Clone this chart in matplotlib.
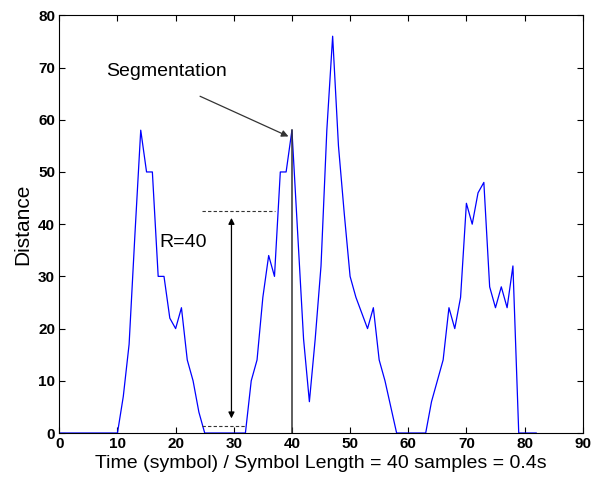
import matplotlib.pyplot as plt

plt.rcParams["font.family"] = ["Liberation Sans", "DejaVu Sans"]

# time in symbols and distance values
time_sym = list(range(0, 83))
distance = (
    [0] * 10
    + [0, 7, 17, 38, 58, 50, 50, 30, 30, 22, 20, 24, 14, 10, 4, 0]  # 10..25
    + [0] * 6  # 26..31
    + [0, 10, 14, 26, 34, 30, 50, 50, 58]  # 32..40
    + [38, 18, 6, 18, 32, 58, 76, 55, 42, 30, 26, 23, 20, 24, 14, 10, 5, 0]  # 41..58
    + [0] * 4  # 59..62
    + [0, 6, 10, 14, 24, 20, 26, 44, 40, 46, 48, 28, 24, 28, 24, 32, 0]  # 63..79
    + [0] * 3  # 80..82
)

seg_x = 40
seg_y = 58

fig = plt.figure(figsize=(5.92, 4.79), dpi=100)
ax = fig.add_axes([0.1002, 0.096, 0.8841, 0.872])

ax.plot(time_sym, distance, color="#0000ff", linewidth=0.9)
ax.plot([seg_x, seg_x], [0, seg_y], color="#333333", linewidth=1.1)

# segmentation arrow
ax.annotate("", xy=(39.4, 56.8), xytext=(24.2, 64.5),
            arrowprops=dict(arrowstyle="-|>", color="#333333", lw=0.9,
                            mutation_scale=10, shrinkA=0, shrinkB=0))
ax.text(8.0, 69.3, "Segmentation", fontsize=14, va="center", ha="left")

# R=40 range indicator
ax.plot([24.5, 37.1], [42.6, 42.6], color="#333333", linestyle="--",
        linewidth=0.8, dashes=(3, 2))
ax.plot([24.5, 32.0], [1.3, 1.3], color="#333333", linestyle="--",
        linewidth=0.8, dashes=(3, 2))
ax.annotate("", xy=(29.6, 41.2), xytext=(29.6, 2.8),
            arrowprops=dict(arrowstyle="<|-|>", color="black", lw=0.9,
                            mutation_scale=9, shrinkA=0, shrinkB=0))
ax.text(17.2, 36.5, "R=40", fontsize=14, va="center", ha="left")

ax.set_xlim(0, 90)
ax.set_ylim(0, 80)
ax.set_xticks(range(0, 91, 10))
ax.set_yticks(range(0, 81, 10))
ax.tick_params(direction="in", top=True, right=True, length=4, width=0.8,
               labelsize=11, pad=3)
for lbl in ax.get_xticklabels() + ax.get_yticklabels():
    lbl.set_fontweight("bold")
for sp in ax.spines.values():
    sp.set_linewidth(0.8)

ax.set_xlabel("Time (symbol) / Symbol Length = 40 samples = 0.4s",
              fontsize=14, labelpad=3)
ax.set_ylabel("Distance", fontsize=15, labelpad=4)

fig.savefig("out.png", dpi=100)
